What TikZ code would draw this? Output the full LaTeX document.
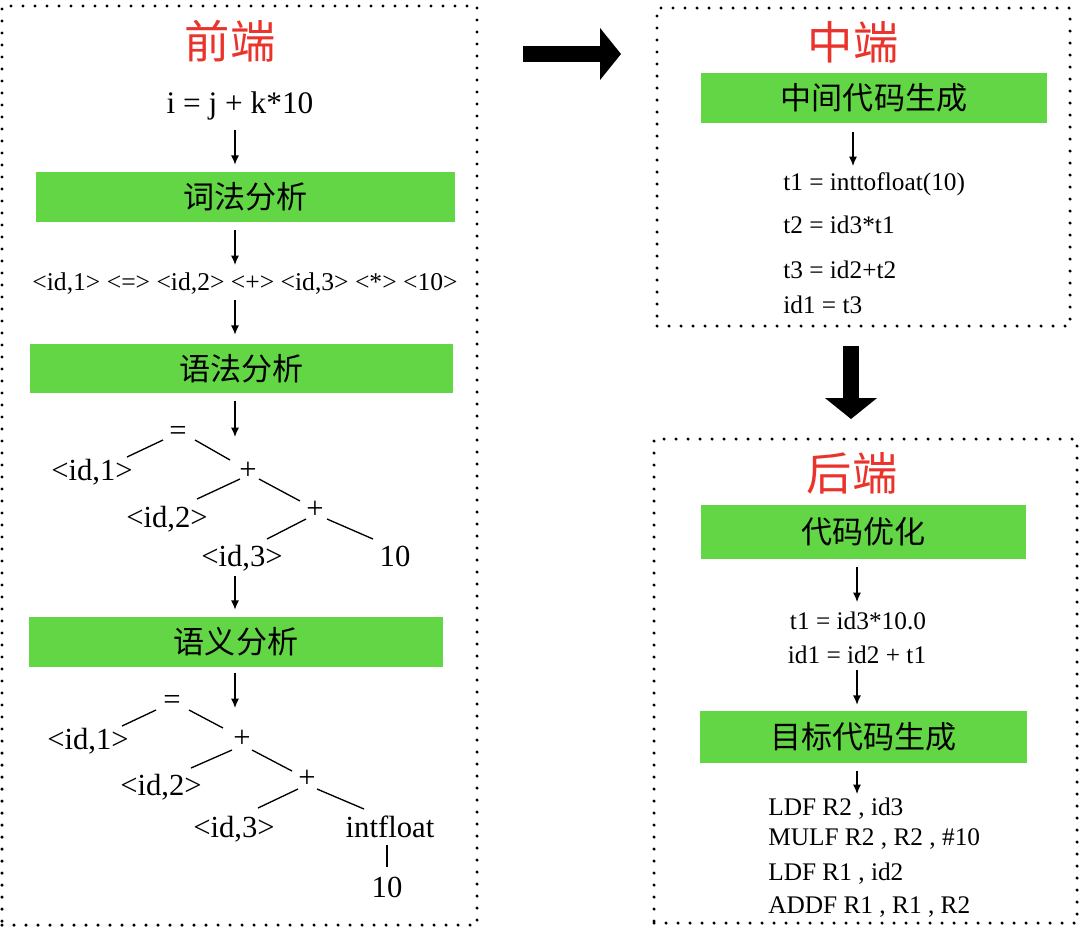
\documentclass[tikz,border=0pt]{standalone}
\usepackage{fontspec}
\setmainfont{Liberation Serif}
\newfontfamily\cjkfont{Noto Sans CJK SC}
\usetikzlibrary{arrows.meta,calc}
\definecolor{stagegreen}{RGB}{99,214,69}
\definecolor{titlered}{RGB}{233,51,43}
\begin{document}
\begin{tikzpicture}[x=0.75pt,y=-0.75pt,
  frame/.style={draw, line width=2.6pt, dash pattern=on 0pt off 9pt, line cap=round, inner sep=0pt},
  titletext/.style={font=\cjkfont\fontsize{34}{40}\selectfont, text=titlered, inner sep=0pt},
  stage/.style={fill=stagegreen, font=\cjkfont\fontsize{23.3}{27}\selectfont, inner sep=0pt},
  txt/.style={inner sep=0pt, anchor=base},
  codeline/.style={inner sep=0pt, anchor=base west, font=\fontsize{19}{22}\selectfont},
  exprtext/.style={txt, font=\fontsize{23.5}{27}\selectfont},
  tokentext/.style={txt, font=\fontsize{19.2}{22}\selectfont},
  treetext/.style={txt, font=\fontsize{23}{26}\selectfont},
  optline/.style={txt, font=\fontsize{19}{22}\selectfont},
  flow/.style={-{Latex[length=7pt,width=6pt]}, line width=0.9pt},
  treeedge/.style={line width=1pt},
  bigarrow/.style={line width=12pt, -{Triangle[length=15.75pt,width=38.25pt]}}
]
\useasboundingbox (0,0) rectangle (1080,929);

% frames
\node[frame, minimum width=356.25pt, minimum height=689.25pt] (fe) at (239.5,465.5) {};
\node[frame, minimum width=309.75pt, minimum height=238.5pt] (me) at (863.5,167) {};
\node[frame, minimum width=317.25pt, minimum height=363pt] (be) at (865.5,681) {};

% axes for the small arrows
\coordinate (axL) at (235,0);
\coordinate (axM) at (853,0);
\coordinate (axB) at (857,0);

% ---------- front end ----------
\node[titletext] (t1) at (230,41) {前端};
\node[exprtext] (src) at (240,113) {i = j + k*10};
\node[stage, minimum width=314.25pt, minimum height=37.5pt] (lex) at (245.5,197) {词法分析};
\node[tokentext] (tok) at (245,290) {<id,1> <=> <id,2> <+> <id,3> <*> <10>};
\node[stage, minimum width=317.25pt, minimum height=36.75pt] (syn) at (241.5,368.5) {语法分析};

% tree 1
\node[treetext] (eqA) at (178,440) {=};
\node[treetext] (id1A) at (92,480) {<id,1>};
\node[treetext] (plA) at (248,479) {+};
\node[treetext] (id2A) at (167,527) {<id,2>};
\node[treetext] (plB) at (315,518) {+};
\node[treetext] (id3A) at (242,566) {<id,3>};
\node[treetext] (tenA) at (395,566) {10};

\node[stage, minimum width=310.5pt, minimum height=37.5pt] (sem) at (236,642) {语义分析};

% tree 2
\node[treetext] (eqB) at (172,709) {=};
\node[treetext] (id1B) at (88,749) {<id,1>};
\node[treetext] (plC) at (242,747) {+};
\node[treetext] (id2B) at (161,795) {<id,2>};
\node[treetext] (plD) at (307,787) {+};
\node[treetext] (id3B) at (234,837) {<id,3>};
\node[treetext] (intf) at (390,837) {intfloat};
\node[treetext] (tenB) at (387,897) {10};

% ---------- middle end ----------
\node[titletext] (t2) at (853,42) {中端};
\node[stage, minimum width=259.5pt, minimum height=37.5pt] (icg) at (874,98) {中间代码生成};
\node[codeline] (ir1) at (783,190) {t1 = inttofloat(10)};
\node[codeline] (ir2) at (783,233) {t2 = id3*t1};
\node[codeline] (ir3) at (783,278) {t3 = id2+t2};
\node[codeline] (ir4) at (783,313) {id1 = t3};

% ---------- back end ----------
\node[titletext] (t3) at (852,473) {后端};
\node[stage, minimum width=243.75pt, minimum height=40.5pt] (opt) at (863.5,532) {代码优化};
\node[optline] (o1) at (858,629) {t1 = id3*10.0};
\node[optline] (o2) at (857,663) {id1 = id2 + t1};
\node[stage, minimum width=245.25pt, minimum height=39pt] (tcg) at (863.5,737) {目标代码生成};
\node[codeline] (asm1) at (768,815) {LDF R2 , id3};
\node[codeline] (asm2) at (768,845) {MULF R2 , R2 , \#10};
\node[codeline] (asm3) at (768,880) {LDF R1 , id2};
\node[codeline] (asm4) at (768,913) {ADDF R1 , R1 , R2};

% ---------- small flow arrows ----------
\draw[flow] ($(src.base -| axL)+(0,17)$) -- ($(lex.north -| axL)+(0,-7)$);
\draw[flow] ($(lex.south -| axL)+(0,8)$) -- ($(tok.base -| axL)+(0,-25)$);
\draw[flow] ($(tok.base -| axL)+(0,10)$) -- ($(syn.north -| axL)+(0,-9)$);
\draw[flow] ($(syn.south -| axL)+(0,8)$) -- ($(plA.base -| axL)+(0,-42)$);
\draw[flow] ($(id3A.base -| axL)+(0,10)$) -- ($(sem.north -| axL)+(0,-7)$);
\draw[flow] ($(sem.south -| axL)+(0,6)$) -- ($(plC.base -| axL)+(0,-39)$);
\draw[flow] ($(icg.south -| axM)+(0,9)$) -- ($(ir1.base -| axM)+(0,-24)$);
\draw[flow] ($(opt.south -| axB)+(0,8)$) -- ($(o1.base -| axB)+(0,-27)$);
\draw[flow] ($(o2.base -| axB)+(0,7)$) -- ($(tcg.north -| axB)+(0,-6)$);
\draw[flow] ($(tcg.south -| axB)+(0,8)$) -- ($(asm1.base -| axB)+(0,-21)$);

% ---------- tree 1 edges ----------
\draw[treeedge] ($(eqA.base)+(-15,0)$) -- ($(id1A.base)+(35,-23)$);
\draw[treeedge] ($(eqA.base)+(17,0)$) -- ($(plA.base)+(-18,-19)$);
\draw[treeedge] ($(plA.base)+(-8,0)$) -- ($(id2A.base)+(30,-28)$);
\draw[treeedge] ($(plA.base)+(11,0)$) -- ($(plB.base)+(-15,-17)$);
\draw[treeedge] ($(plB.base)+(-9,1)$) -- ($(id3A.base)+(25,-27)$);
\draw[treeedge] ($(plB.base)+(12,1)$) -- ($(tenA.base)+(-22,-27)$);

% ---------- tree 2 edges ----------
\draw[treeedge] ($(eqB.base)+(-16,1)$) -- ($(id1B.base)+(34,-23)$);
\draw[treeedge] ($(eqB.base)+(17,1)$) -- ($(plC.base)+(-19,-19)$);
\draw[treeedge] ($(plC.base)+(-10,3)$) -- ($(id2B.base)+(30,-27)$);
\draw[treeedge] ($(plC.base)+(10,3)$) -- ($(plD.base)+(-15,-16)$);
\draw[treeedge] ($(plD.base)+(-9,2)$) -- ($(id3B.base)+(24,-29)$);
\draw[treeedge] ($(plD.base)+(10,2)$) -- ($(intf.base)+(-26,-28)$);
\draw[treeedge] ($(intf.base -| tenB.base)+(0,8)$) -- ($(tenB.base)+(0,-30)$);

% ---------- big arrows between stages ----------
\coordinate (raS) at (523,54);
\coordinate (raE) at (621,54);
\draw[bigarrow] (raS) -- (raE);
\coordinate (daS) at (851,346);
\coordinate (daE) at (851,419);
\draw[bigarrow] (daS) -- (daE);
\end{tikzpicture}
\end{document}
